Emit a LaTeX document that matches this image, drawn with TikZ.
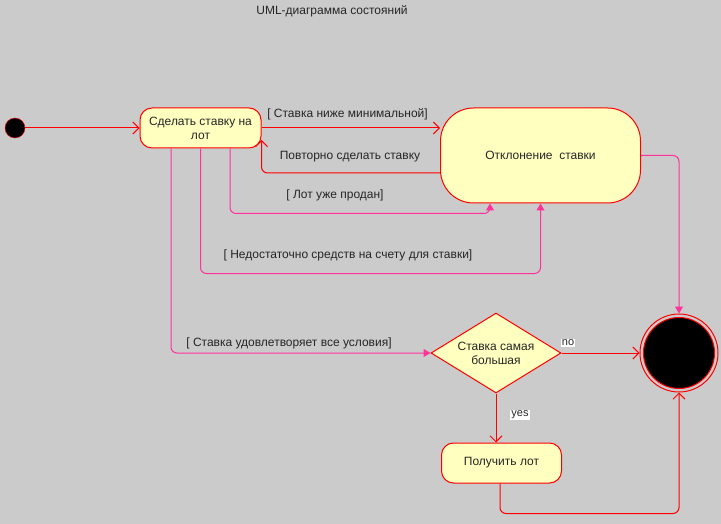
\documentclass[tikz,border=0pt]{standalone}
\usepackage{fontspec}
\setmainfont{Liberation Sans}
\usepackage{xcolor}
\usetikzlibrary{arrows.meta,shapes.geometric}

\definecolor{bggray}{HTML}{CBCBCB}
\definecolor{statefill}{HTML}{FFFFC0}
\definecolor{linkpink}{HTML}{FF3399}

\begin{document}
\begin{tikzpicture}[
        x=1pt, y=-1pt,
        every node/.style = {font=\fontsize{12}{14}\selectfont, text=black!85},
        state/.style = {draw=red, fill=statefill, rounded corners=12pt, align=center, line width=1pt},
        choice/.style = {diamond, aspect=1.625, draw=red, fill=statefill, minimum width=130pt, minimum height=80pt, inner sep=0pt, align=center, line width=1pt},
        dot/.style = {circle, fill=black, draw=red, inner sep=0pt, minimum size=20pt},
        flow/.style = {draw=red, line width=1pt, rounded corners=6pt, -{Straight Barb[length=6pt,width=12pt]}},
        guard/.style = {draw=linkpink, line width=1pt, rounded corners=6pt, -{Triangle[length=7pt,width=8pt]}},
        tag/.style = {fill=white, inner sep=1pt, font=\fontsize{11}{12}\selectfont}
    ]
        \fill[bggray] (0,0) rectangle (721,524);
        \useasboundingbox (0,0) rectangle (721,524);
        \node (title) at (332,11) {UML-диаграмма состояний};

        \node[dot] (init) at (15,128) {};
        \node[state, minimum width=121pt, minimum height=40pt, inner sep=2pt] (bid) at (200.5,128) {Сделать ставку на\\лот};
        \node[state, rounded corners=33pt, minimum width=200pt, minimum height=95pt] (reject) at (540.5,155.5) {Отклонение\ \ ставки};
        \node[choice] (best) at (496,353) {Ставка самая\\большая};
        \node[state, minimum width=120pt, minimum height=40pt] (win) at (501.5,463) {Получить лот};
        \node[circle, draw=red, line width=1pt, minimum size=78pt] (fin) at (679,353) {};
        \node[circle, fill=black, draw=red, line width=1pt, minimum size=71pt] (finin) at (fin) {};

        % transitions
        \draw[flow] (init) -- (bid.west);
        \draw[flow] (bid.east) -- (bid.east -| reject.west);
        \draw[flow] ([yshift=-17.5pt]reject.west) -| ([yshift=-12pt]bid.east);
        \draw[guard] ([xshift=29.5pt]bid.south) -- ++(0,65) -| ([xshift=-50.5pt]reject.south);
        \draw[guard] (bid.south) -- ++(0,125) -| (reject.south);
        \draw[guard] ([xshift=-29.5pt]bid.south) |- (best.west);
        \draw[guard] (reject.east) -| (fin.north);
        \draw[flow] (best.east) -- (fin.west);
        \draw[flow] (best.south) -- (best.south |- win.north);
        \draw[flow] ([xshift=-1.5pt]win.south) -- ++(0,30) -| (fin.south);

        % guards
        \node (lowbid) at (347.5,114) {[ Ставка ниже минимальной]};
        \node (again) at (350,157) {Повторно сделать ставку};
        \node (sold) at (335,195) {[ Лот уже продан]};
        \node (funds) at (348,255) {[ Недостаточно средств на счету для ставки]};
        \node (allok) at (289,343) {[ Ставка удовлетворяет все условия]};
        \node[tag] (no) at (568,343) {no};
        \node[tag] (yes) at (520,415) {yes};
\end{tikzpicture}
\end{document}
